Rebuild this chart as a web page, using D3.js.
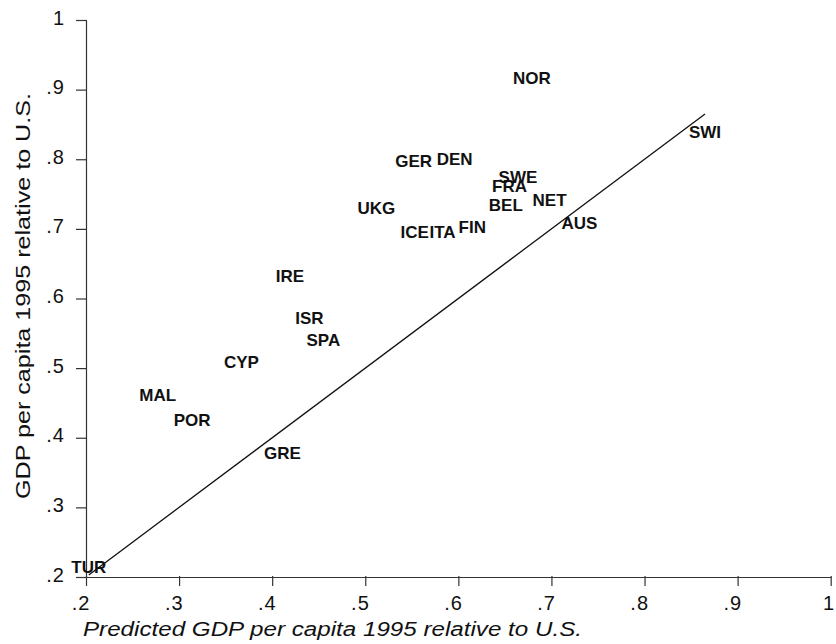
<!DOCTYPE html>
<html>
<head>
<meta charset="utf-8">
<script src="https://cdn.jsdelivr.net/npm/d3@7"></script>
<style>
  html, body { margin: 0; padding: 0; background: #fff; }
  svg { display: block; }
</style>
</head>
<body>
<svg id="chart" width="836" height="644"></svg>
<script>
// ---- data ----
const countries = ["NOR","SWI","GER","DEN","SWE","FRA","BEL","NET","AUS","UKG","ICE","ITA","FIN","IRE","ISR","SPA","CYP","MAL","POR","GRE","TUR"];
const predicted = [0.679,0.865,0.552,0.596,0.664,0.655,0.651,0.698,0.730,0.512,0.553,0.583,0.615,0.419,0.440,0.455,0.367,0.277,0.314,0.411,0.203];
const actual    = [0.917,0.839,0.798,0.801,0.775,0.762,0.734,0.742,0.709,0.730,0.696,0.696,0.702,0.633,0.572,0.540,0.509,0.461,0.425,0.378,0.215];
const xTicks = [0.2,0.3,0.4,0.5,0.6,0.7,0.8,0.9,1];
const yTicks = [0.2,0.3,0.4,0.5,0.6,0.7,0.8,0.9,1];
const xTitle = "Predicted GDP per capita 1995 relative to U.S.";
const yTitle = "GDP per capita 1995 relative to U.S.";

const svg = d3.select("#chart");
const x = d3.scaleLinear().domain([0.2, 1]).range([86, 830.7]);
const y = d3.scaleLinear().domain([0.2, 1]).range([577, 20]);
const fmt = v => v === 1 ? "1" : d3.format(".1f")(v).replace(/^0/, "");
const axisColor = "#333";
const font = "'Liberation Sans', Arial, Helvetica, sans-serif";

// y axis
const yAxis = svg.append("g").attr("transform", "translate(86,0)")
  .call(d3.axisLeft(y).tickValues(yTicks).tickFormat(fmt).tickSize(10).tickSizeOuter(0));
yAxis.select(".domain").attr("stroke", axisColor).attr("stroke-width", 1.2);
yAxis.selectAll(".tick line").attr("stroke", axisColor).attr("stroke-width", 1.2).attr("x2", -10).attr("x1", 1);
yAxis.selectAll(".tick text")
  .attr("x", -21).attr("dy", "0.2em")
  .attr("font-family", font).attr("font-size", 20).attr("fill", "#111")
  .attr("letter-spacing", 1);

// x axis
const xAxis = svg.append("g").attr("transform", "translate(0,577)")
  .call(d3.axisBottom(x).tickValues(xTicks).tickFormat(fmt).tickSize(9).tickSizeOuter(0));
xAxis.select(".domain").attr("stroke", axisColor).attr("stroke-width", 1.2);
xAxis.selectAll(".tick line").attr("stroke", axisColor).attr("stroke-width", 1.2).attr("y1", -1);
xAxis.selectAll(".tick text")
  .attr("text-anchor", "end").attr("x", 4).attr("y", 33).attr("dy", 0)
  .attr("font-family", font).attr("font-size", 20).attr("fill", "#111")
  .attr("letter-spacing", 1);

// 45 degree line from min to max predicted
const lo = d3.min(predicted), hi = d3.max(predicted);
svg.append("line")
  .attr("x1", x(lo)).attr("y1", y(lo))
  .attr("x2", x(hi)).attr("y2", y(hi))
  .attr("stroke", "#111").attr("stroke-width", 1.3);

// country labels centered on points
svg.append("g").selectAll("text")
  .data(countries)
  .join("text")
  .attr("x", (d, i) => x(predicted[i]))
  .attr("y", (d, i) => y(actual[i]) + 6)
  .attr("text-anchor", "middle")
  .attr("font-family", font).attr("font-weight", "bold").attr("font-size", 17)
  .attr("fill", "#111")
  .text(d => d);

// axis titles
svg.append("text")
  .attr("x", 83).attr("y", 636)
  .attr("font-family", font).attr("font-style", "italic").attr("font-size", 20)
  .attr("textLength", 499).attr("lengthAdjust", "spacingAndGlyphs")
  .attr("fill", "#111")
  .text(xTitle);

svg.append("text")
  .attr("transform", "translate(30,499) rotate(-90)")
  .attr("x", 0).attr("y", 0)
  .attr("font-family", font).attr("font-size", 21)
  .attr("textLength", 406).attr("lengthAdjust", "spacingAndGlyphs")
  .attr("fill", "#111")
  .text(yTitle);
</script>
</body>
</html>
